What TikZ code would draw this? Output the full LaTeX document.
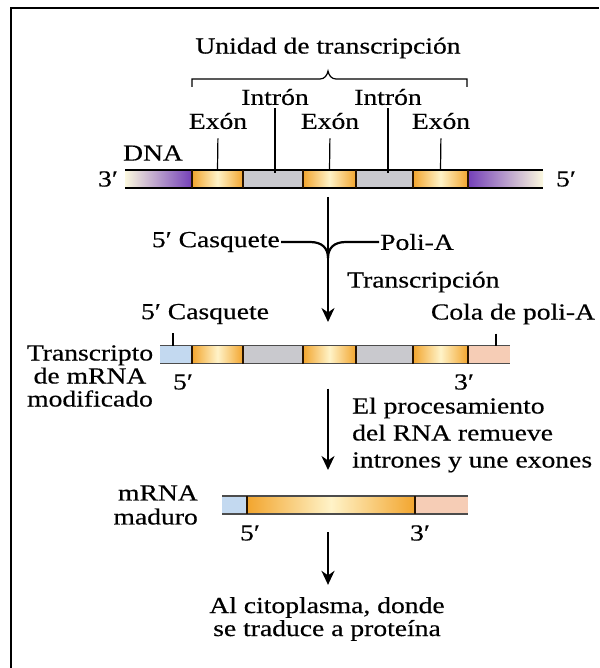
\documentclass[tikz,border=0pt]{standalone}
\usepackage{fontspec}
\setmainfont{Liberation Serif}[FakeStretch=1.2, FakeBold=0.4]
\usetikzlibrary{arrows.meta,positioning}

\definecolor{exodark}{HTML}{F2A52E}
\definecolor{exolight}{HTML}{FFF3C8}
\definecolor{purp}{HTML}{7440B8}
\definecolor{cream}{HTML}{FBF8DF}
\definecolor{intr}{HTML}{C9C9CE}
\definecolor{capblue}{HTML}{C3D9F0}
\definecolor{tailpink}{HTML}{F6CDB6}

\begin{document}
\begin{tikzpicture}[
    x=1pt, y=-1pt,
    font=\fontsize{23}{23}\selectfont,
    >={Stealth[length=14pt,width=13pt,inset=4.5pt]},
    seg/.style={rectangle, inner sep=0pt, outer sep=0pt, minimum height=18pt},
    exon/.style={seg, left color=exodark, right color=exodark, middle color=exolight},
    intron/.style={seg, fill=intr},
    flankL/.style={seg, left color=cream, right color=purp},
    flankR/.style={seg, left color=purp, right color=cream},
    capseg/.style={seg, fill=capblue},
    tailseg/.style={seg, fill=tailpink},
    rim/.style={line width=1.4pt},
    bound/.style={line width=1.5pt, draw=black!85!orange},
    lead/.style={line width=1.2pt},
    flow/.style={->, line width=2.4pt},
    lbl/.style={inner sep=2pt, align=center}
]
\useasboundingbox (0,0) rectangle (599,668);
\draw[line width=2.5pt] (11,668) -- (11,8) -- (599,8);

% DNA
\node[flankL, minimum width=67pt, anchor=west] (d1) at (125,179) {};
\node[exon, minimum width=51pt, right=0pt of d1] (d2) {};
\node[intron, minimum width=60pt, right=0pt of d2] (d3) {};
\node[exon, minimum width=53pt, right=0pt of d3] (d4) {};
\node[intron, minimum width=57pt, right=0pt of d4] (d5) {};
\node[exon, minimum width=55pt, right=0pt of d5] (d6) {};
\node[flankR, minimum width=75pt, right=0pt of d6] (d7) {};
\draw[rim] (d1.north west) -- (d7.north east);
\draw[rim] (d1.south west) -- (d7.south east);
\foreach \s in {d2,d3,d4,d5,d6,d7}
    \draw[bound] (\s.north west) -- (\s.south west);

\node[lbl] (dna) at (153,153) {DNA};
\node[lbl] (p3dna) at (108,179) {3′};
\node[lbl] (p5dna) at (566,179) {5′};

\node[lbl] (unit) at (328,48) {Unidad de transcripción};
\draw[lead] (192,87) -- (192,79) -- (320,79) to[out=0,in=-100] (328,71)
    to[out=-80,in=180] (336,79) -- (467,79) -- (467,87);

\node[lbl] (in1) at (275,97) {Intrón};
\node[lbl] (in2) at (388,97) {Intrón};
\node[lbl] (ex1) at (218,121) {Exón};
\node[lbl] (ex2) at (330,121) {Exón};
\node[lbl] (ex3) at (441,121) {Exón};
\draw[lead, shorten <=7pt] (ex1.south) -- (d2.north);
\draw[lead, shorten <=7pt] (ex2.south) -- (d4.north);
\draw[lead, shorten <=7pt] (ex3.south) -- (d6.north);
\draw[lead, shorten <=1pt] (in1.south) -- ([yshift=-3pt]in1.south |- d3.north);
\draw[lead, shorten <=1pt] (in2.south) -- ([yshift=-3pt]in2.south |- d5.north);

% transcripcion
\node[lbl, anchor=east, inner sep=1pt] (capU) at (281,242) {5′ Casquete};
\node[lbl, anchor=west, inner sep=1pt] (poliU) at (379,242) {Poli-A};
\coordinate (jn) at (328,258);
\draw[lead, line width=2.2pt] (capU.east) -- (310,242) .. controls (322,242) and (328,248) .. (jn);
\draw[lead, line width=2.2pt] (poliU.west) -- (346,242) .. controls (334,242) and (328,248) .. (jn);
\draw[flow, shorten <=9pt, shorten >=24pt] (d4.south -| jn) -- (jn |- 0,346);
\node[lbl, anchor=west] (trans) at (345,282) {Transcripción};

% transcrito primario
\node[capseg, minimum width=32pt, anchor=west] (t0) at (160,354.5) {};
\node[exon, minimum width=51pt, right=0pt of t0] (t1) {};
\node[intron, minimum width=60pt, right=0pt of t1] (t2) {};
\node[exon, minimum width=53pt, right=0pt of t2] (t3) {};
\node[intron, minimum width=57pt, right=0pt of t3] (t4) {};
\node[exon, minimum width=55pt, right=0pt of t4] (t5) {};
\node[tailseg, minimum width=42pt, right=0pt of t5] (t6) {};
\draw[rim, black!70] (t0.north west) -- (t6.north east);
\draw[rim, black!70] (t0.south west) -- (t6.south east);
\foreach \s in {t1,t2,t3,t4,t5,t6}
    \draw[bound] (\s.north west) -- (\s.south west);

\node[lbl] (capL) at (205,314) {5′ Casquete};
\node[lbl] (colaL) at (513,314) {Cola de poli-A};
\draw[lead, shorten <=7pt] (capL.south -| 173,0) -- (173,0 |- t0.north);
\draw[lead, shorten <=7pt] (colaL.south -| 496,0) -- (496,0 |- t6.north);
\node[lbl, font=\fontsize{23}{23}\selectfont] (trL) at (90,376) {Transcripto\\de mRNA\\modificado};
\node[lbl] (p5t) at (183,382) {5′};
\node[lbl] (p3t) at (464,382) {3′};

% procesamiento
\node[capseg, minimum width=25pt, anchor=west] (m1) at (222,505) {};
\node[exon, minimum width=168pt, right=0pt of m1] (m2) {};
\node[tailseg, minimum width=53pt, right=0pt of m2] (m3) {};
\draw[rim, black!70] (m1.north west) -- (m3.north east);
\draw[rim, black!70] (m1.south west) -- (m3.south east);
\foreach \s in {m2,m3}
    \draw[bound] (\s.north west) -- (\s.south west);

\draw[flow, shorten <=25pt, shorten >=26pt] (jn |- t3.south) -- (jn |- m2.north);
\node[lbl, anchor=west, align=left, font=\fontsize{23}{27}\selectfont] (proc) at (350,435)
    {El procesamiento\\del RNA remueve\\intrones y une exones};
\node[lbl, anchor=east, align=right, font=\fontsize{23}{24}\selectfont] (matL) at (200,505) {mRNA\\maduro};
\node[lbl] (p5m) at (250,533) {5′};
\node[lbl] (p3m) at (420,533) {3′};

% citoplasma
\node[lbl, font=\fontsize{23}{23}\selectfont] (cyto) at (327,619) {Al citoplasma, donde\\se traduce a proteína};
\draw[flow, shorten <=18pt, shorten >=10pt] (jn |- m2.south) -- (jn |- cyto.north);
\end{tikzpicture}
\end{document}
